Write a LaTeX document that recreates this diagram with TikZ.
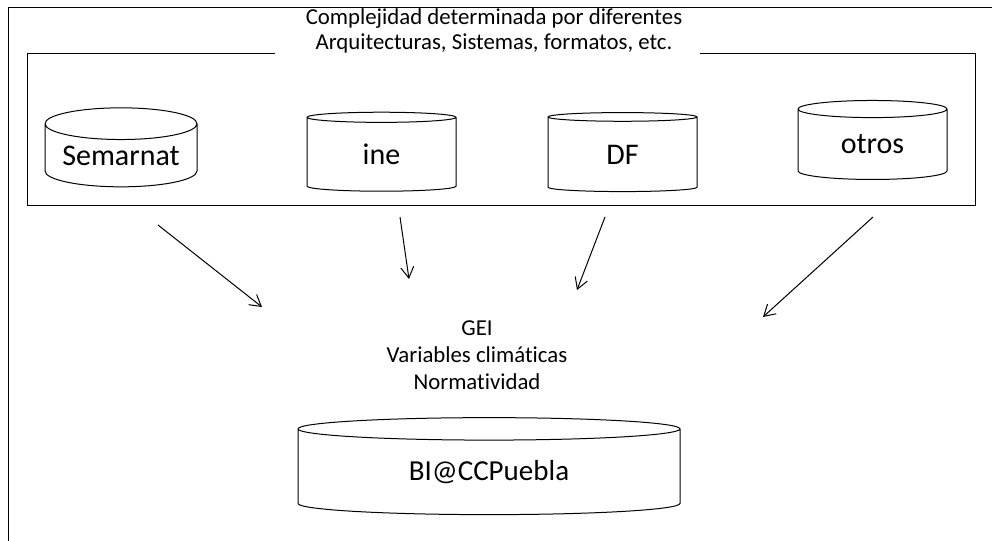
\documentclass[tikz,border=0pt]{standalone}
\usepackage{fontspec}
\setmainfont{Carlito}[Ligatures=NoCommon]
\usetikzlibrary{shapes.geometric,arrows.meta}

\tikzset{
  db/.style={cylinder, shape border rotate=90, draw, aspect=0.27, inner sep=0pt,
    font=\fontsize{15}{18}\selectfont},
  flecha/.style={-{Straight Barb[length=5.5pt,width=6.5pt]}, line width=0.5pt},
}

\begin{document}
\begin{tikzpicture}[x=0.5pt,y=-0.5pt, line width=0.5pt]
\useasboundingbox (0,0) rectangle (992,541);
% marco exterior
\draw (992,7) -- (8,7) -- (8,541);
% caja de las fuentes
\draw (275,53) -- (27,53) -- (27,205) -- (975,205) -- (975,53) -- (700,53);
\node[align=center, font=\fontsize{11.4}{12.2}\selectfont] (titulo) at (494,31)
  {Complejidad determinada por diferentes\\Arquitecturas, Sistemas, formatos, etc.};

\node[db, minimum width=76pt, minimum height=39.5pt] (semarnat) at (121,155.5) {Semarnat};
\node[db, minimum width=74.5pt, minimum height=39.5pt] (ine) at (381.5,154.5) {ine};
\node[db, minimum width=74.5pt, minimum height=39.5pt] (df) at (622.5,154.5) {DF};
\node[db, minimum width=74.5pt, minimum height=39.5pt] (otros) at (872.5,144.5) {otros};

% flechas
\coordinate (s1) at (158,225); \coordinate (e1) at (262,307);
\coordinate (s2) at (400,217); \coordinate (e2) at (409,279);
\coordinate (s3) at (605,217); \coordinate (e3) at (577,290);
\coordinate (s4) at (873,217); \coordinate (e4) at (763,317);
\draw[flecha] (s1) -- (e1);
\draw[flecha] (s2) -- (e2);
\draw[flecha] (s3) -- (e3);
\draw[flecha] (s4) -- (e4);

\node[align=center, font=\fontsize{11.4}{13.5}\selectfont] (gei) at (477,355)
  {GEI\\Variables climáticas\\Normatividad};

\node[db, aspect=0.14, minimum width=191pt, minimum height=48.5pt,
  font=\fontsize{14.5}{17}\selectfont] (bi) at (489,472) {BI@CCPuebla};
\end{tikzpicture}
\end{document}
